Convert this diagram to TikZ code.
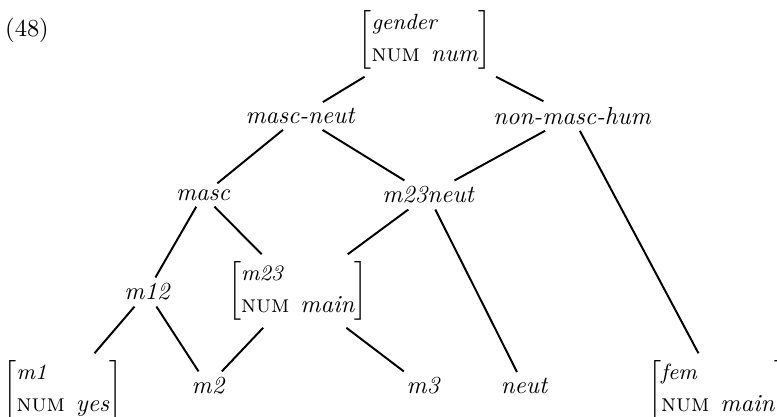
\documentclass[tikz,border=0pt]{standalone}
% feature structure: type on the first line, NUM value on the second
\newcommand{\featstr}[2]{$\left[\begin{array}{@{}l@{}}\mbox{\small\itshape #1}\\[1pt] \mbox{\textsc{num}\hspace{4.5pt}\textit{#2}}\end{array}\right]$}
\begin{document}
\begin{tikzpicture}[x=0.4082pt,y=-0.4082pt,
    every node/.style={inner sep=0pt,outer sep=2.5pt},
    typ/.style={font=\itshape},
    edge/.style={line width=0.8pt}]
\useasboundingbox (0,0) rectangle (777,416);
\node (ex) at (27,30) {(48)};
% hierarchy nodes
\node (gender) at (425,40) {\featstr{gender}{num}};
\node[typ] (mn) at (300,116) {masc-neut};
\node[typ] (nmh) at (572,116) {non-masc-hum};
\node[typ] (masc) at (203,195) {masc};
\node[typ] (mneut) at (428,195) {m23neut};
\node[typ] (m12) at (147,292) {m12};
\node (m23) at (298,291) {\featstr{m23}{main}};
\node (m1) at (63,390) {\featstr{m1}{yes}};
\node[typ] (m2) at (208,386) {m2};
\node[typ] (m3) at (423,386) {m3};
\node[typ] (neut) at (524,386) {neut};
\node (fem) at (718,390) {\featstr{fem}{main}};
% links
\draw[edge] (gender) -- (mn);
\draw[edge] (gender) -- (nmh);
\draw[edge] (mn) -- (masc);
\draw[edge] (mn) -- (mneut);
\draw[edge] (nmh) -- (mneut);
\draw[edge] (nmh) -- (fem);
\draw[edge] (masc) -- (m12);
\draw[edge] (masc) -- (m23);
\draw[edge] (mneut) -- (m23);
\draw[edge] (mneut) -- (neut);
\draw[edge] (m12) -- (m1);
\draw[edge] (m12) -- (m2);
\draw[edge] (m23) -- (m2);
\draw[edge] (m23) -- (m3);
\end{tikzpicture}
\end{document}
